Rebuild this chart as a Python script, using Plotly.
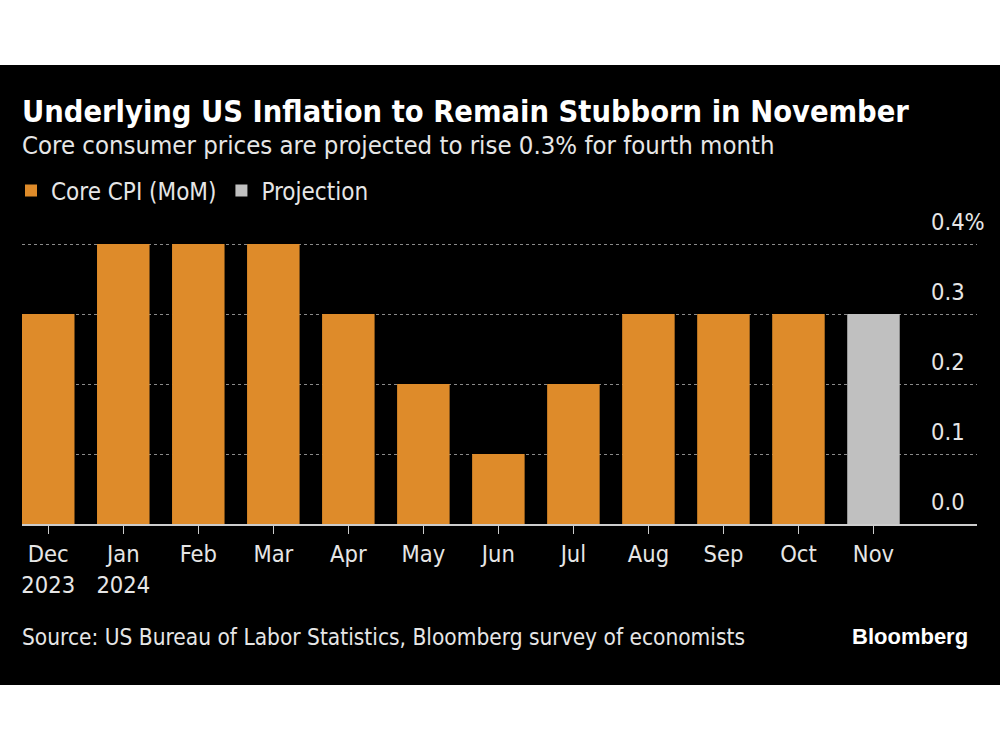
import plotly.graph_objects as go

months = ["Dec", "Jan", "Feb", "Mar", "Apr", "May", "Jun", "Jul", "Aug", "Sep", "Oct", "Nov"]
tick_labels = ["Dec<br>2023", "Jan<br>2024", "Feb", "Mar", "Apr", "May", "Jun", "Jul", "Aug", "Sep", "Oct", "Nov"]
core_cpi = [0.3, 0.4, 0.4, 0.4, 0.3, 0.2, 0.1, 0.2, 0.3, 0.3, 0.3, None]
projection = [None, None, None, None, None, None, None, None, None, None, None, 0.3]
y_ticks = [0.0, 0.1, 0.2, 0.3, 0.4]
y_ticktext = ["0.0", "0.1", "0.2", "0.3", "0.4%"]

FONT = "DejaVu Sans Condensed, Liberation Sans Narrow, DejaVu Sans, sans-serif"
ORANGE = "#DE8B2A"
GRAY = "#C0C0C0"
TXT = "#E6E6E6"

W, H = 1000, 750
L, R, T, B = 22, 23, 242, 226
PH = H - T - B
PW = W - L - R

def py(ypix):
    return (H - B - ypix) / PH

def px(xpix):
    return (xpix - L) / PW

fig = go.Figure()
fig.add_trace(go.Bar(x=months, y=core_cpi, name="Core CPI (MoM)", marker_color=ORANGE,
                     marker_line_width=0, width=0.7))
fig.add_trace(go.Bar(x=months, y=projection, name="Projection", marker_color=GRAY,
                     marker_line_width=0, width=0.7))

shapes = [
    dict(type="rect", xref="paper", yref="paper", x0=-0.1, x1=1.1, y0=py(65), y1=py(-5),
         fillcolor="white", line_width=0, layer="above"),
    dict(type="rect", xref="paper", yref="paper", x0=-0.1, x1=1.1, y0=py(755), y1=py(685),
         fillcolor="white", line_width=0, layer="above"),
]

annotations = [
    dict(text="<b>Underlying US Inflation to Remain Stubborn in November</b>", xref="paper", yref="paper",
         x=px(20), y=py(112), xanchor="left", yanchor="middle", showarrow=False,
         font=dict(family=FONT, size=30.5, color="white")),
    dict(text="Core consumer prices are projected to rise 0.3% for fourth month", xref="paper", yref="paper",
         x=px(20), y=py(145), xanchor="left", yanchor="middle", showarrow=False,
         font=dict(family=FONT, size=25.5, color=TXT)),
    dict(text="Source: US Bureau of Labor Statistics, Bloomberg survey of economists", xref="paper", yref="paper",
         x=px(20), y=py(637), xanchor="left", yanchor="middle", showarrow=False,
         font=dict(family=FONT, size=22.5, color=TXT)),
    dict(text="<b>Bloomberg</b>", xref="paper", yref="paper",
         x=px(970), y=py(636), xanchor="right", yanchor="middle", showarrow=False,
         font=dict(family="Liberation Sans, Arial, sans-serif", size=22, color="white")),
]

fig.update_layout(
    width=W, height=H,
    margin=dict(l=L, r=R, t=T, b=B, autoexpand=False),
    paper_bgcolor="black", plot_bgcolor="black",
    barmode="overlay",
    showlegend=True,
    legend=dict(orientation="h", x=px(11), y=py(191), xanchor="left", yanchor="middle",
                font=dict(family=FONT, size=24, color=TXT), bgcolor="rgba(0,0,0,0)",
                itemwidth=30, traceorder="normal"),
    shapes=shapes,
    annotations=annotations,
    font=dict(family=FONT, color=TXT),
)

fig.update_xaxes(
    type="category",
    categoryorder="array", categoryarray=months,
    tickvals=months, ticktext=tick_labels,
    range=[-0.35, 12.38],
    automargin=False,
    showline=True, linecolor="#CCCCCC", linewidth=2,
    ticks="outside", ticklen=8, tickcolor="#CCCCCC", tickwidth=1,
    tickfont=dict(family=FONT, size=23.5, color=TXT),
    showgrid=False, zeroline=False,
)

fig.update_yaxes(
    range=[0, 0.403],
    tickvals=y_ticks, ticktext=y_ticktext,
    automargin=False,
    side="right", anchor="free", position=px(930),
    ticklabelposition="outside", ticks="", ticklabelshift=-22,
    showgrid=True, gridcolor="#8A8A8A", griddash="dot", gridwidth=1,
    showline=False, zeroline=False,
    tickfont=dict(family=FONT, size=23.5, color=TXT),
)

fig.write_html("out.html", config={"displayModeBar": False},
               post_script="document.body.style.margin='0';")
